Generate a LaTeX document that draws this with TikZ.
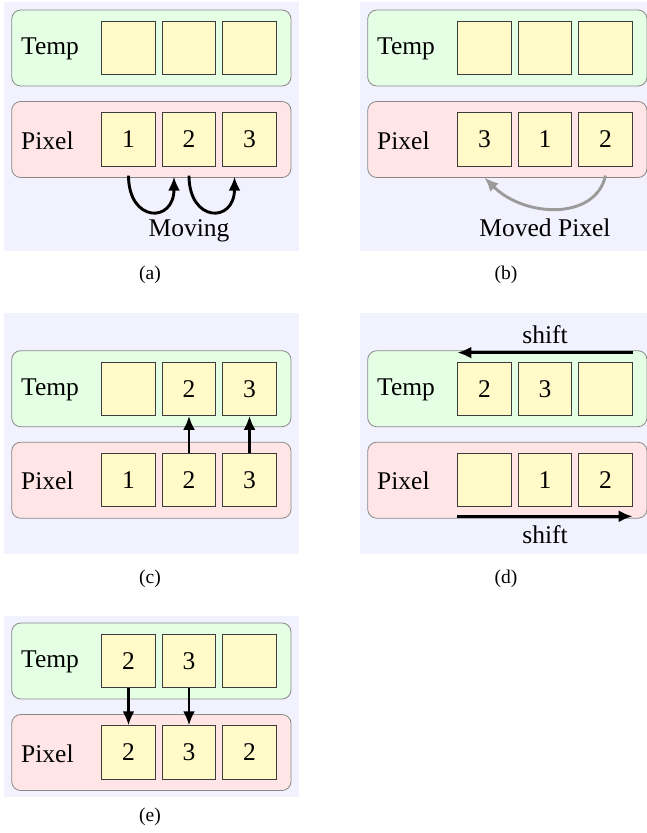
\documentclass[tikz,border=0pt]{standalone}
\usepackage{fontspec}
\setmainfont{Liberation Serif}
\usetikzlibrary{arrows.meta,calc}
\definecolor{bgc}{RGB}{242,242,255}
\definecolor{tempc}{RGB}{229,255,229}
\definecolor{pixc}{RGB}{255,229,229}
\definecolor{cellc}{RGB}{255,250,200}
\definecolor{rowline}{RGB}{136,136,136}
\definecolor{cellline}{RGB}{60,60,60}
\definecolor{graya}{RGB}{155,155,155}
\tikzset{
  row/.style={draw=rowline, line width=0.8pt, rounded corners=9pt, minimum width=279.3pt, minimum height=76pt, inner sep=0pt},
  temprow/.style={row, fill=tempc},
  pixrow/.style={row, fill=pixc},
  cell/.style={draw=cellline, fill=cellc, line width=0.9pt, minimum size=53.3pt, inner sep=0pt, font=\fontsize{25.5}{30}\selectfont},
  lbl/.style={anchor=west, inner sep=0pt, font=\fontsize{25.5}{30}\selectfont},
  bigtxt/.style={anchor=base, inner sep=0pt, font=\fontsize{25.5}{30}\selectfont},
  captxt/.style={inner sep=0pt, font=\fontsize{19.5}{23}\selectfont},
  arr/.style={line width=2.9pt, -{Latex[length=14pt,width=12pt]}},
  garr/.style={arr, draw=graya},
  panelbg/.style={fill=bgc}
}
\newcommand{\rowpair}[9]{%
  \node[temprow] (#1T) at (151.35+#2,#3) {};
  \node[pixrow] (#1P) at (151.35+#2,#3+91.5) {};
  \node[lbl] (#1Tl) at (21+#2,#3+1) {Temp};
  \node[lbl] (#1Pl) at (21+#2,#3+92.5) {Pixel};
  \node[cell] (#1t1) at (128.5+#2,#3) {#4};
  \node[cell] (#1t2) at (189+#2,#3) {#5};
  \node[cell] (#1t3) at (249.5+#2,#3) {#6};
  \node[cell] (#1P1) at (128.5+#2,#3+91.5) {#7};
  \node[cell] (#1P2) at (189+#2,#3+91.5) {#8};
  \node[cell] (#1P3) at (249.5+#2,#3+91.5) {#9};
}
\begin{document}
\begin{tikzpicture}[x=1pt,y=-1pt]
\useasboundingbox (0,0) rectangle (647,833);
% backgrounds
\fill[panelbg] (4,2) rectangle (299,250.5);
\fill[panelbg] (360,2) rectangle (647,250.5);
\fill[panelbg] (4,313) rectangle (299,554);
\fill[panelbg] (360,313) rectangle (647,554);
\fill[panelbg] (4,616) rectangle (299,797);

% (a)
\rowpair{a}{0}{48}{}{}{}{1}{2}{3}
\draw[arr] ($(aP1.south)+(0,9)$) .. controls +(0,47) and +(0,47) .. ($(aP2.south)+(-15,10)$);
\draw[arr] ($(aP2.south)+(0,9)$) .. controls +(0,47) and +(0,47) .. ($(aP3.south)+(-15,10)$);
\node[bigtxt] (amov) at (189,236) {Moving};
\node[captxt] (acap) at (150,274.5) {(a)};

% (b)
\rowpair{b}{356}{48}{}{}{}{3}{1}{2}
\draw[garr] ($(bP3.south)+(0,9)$) .. controls +(-10,45) and +(40,40) .. ($(bP1.south)+(0,11)$);
\node[bigtxt] (bmov) at (545,236) {Moved Pixel};
\node[captxt] (bcap) at (506,274.5) {(b)};

% (c)
\rowpair{c}{0}{388.7}{}{2}{3}{1}{2}{3}
\draw[arr] (cP2.north) -- (ct2.south);
\draw[arr] (cP3.north) -- (ct3.south);
\node[captxt] (ccap) at (150,578.5) {(c)};

% (d)
\rowpair{d}{356}{388.7}{2}{3}{}{}{1}{2}
\draw[arr] ($(dt3.north east)+(0,-9)$) -- ($(dt1.north west)+(0,-9)$);
\node[bigtxt] (dsh1) at (545,343) {shift};
\draw[arr] ($(dP1.south west)+(0,9)$) -- ($(dP3.south east)+(0,9)$);
\node[bigtxt] (dsh2) at (545,543) {shift};
\node[captxt] (dcap) at (506,578.5) {(d)};

% (e)
\rowpair{e}{0}{661}{2}{3}{}{2}{3}{2}
\draw[arr] (et1.south) -- (eP1.north);
\draw[arr] (et2.south) -- (eP2.north);
\node[captxt] (ecap) at (150,817) {(e)};
\end{tikzpicture}
\end{document}
